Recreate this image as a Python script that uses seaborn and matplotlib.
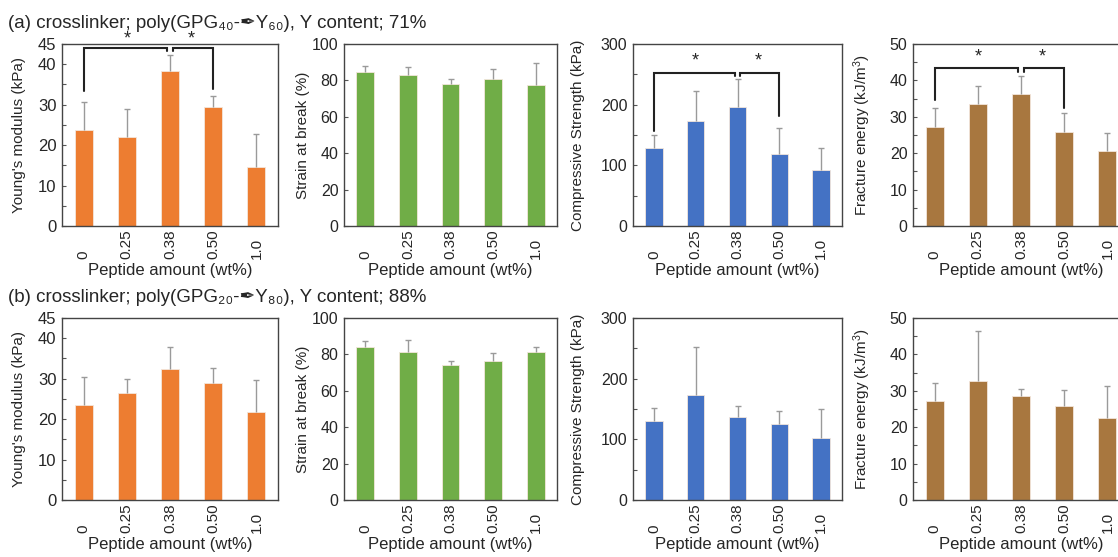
import numpy as np
import pandas as pd
import matplotlib
matplotlib.use("Agg")
import matplotlib.pyplot as plt
import seaborn as sns

# Data
peptide = ["0", "0.25", "0.38", "0.50", "1.0"]

young_a = [23.8, 22.1, 38.3, 29.5, 14.7]
young_a_err = [6.9, 6.8, 4.0, 2.6, 8.1]
strain_a = [84.5, 83.0, 78.0, 80.5, 77.5]
strain_a_err = [3.2, 4.3, 2.8, 6.0, 12.0]
comp_a = [128.5, 173.0, 196.5, 118.0, 92.0]
comp_a_err = [21.5, 49.0, 45.5, 43.0, 37.0]
frac_a = [27.2, 33.4, 36.2, 25.9, 20.6]
frac_a_err = [5.1, 5.1, 5.1, 5.1, 5.0]

young_b = [23.5, 26.5, 32.4, 29.0, 21.8]
young_b_err = [6.9, 3.5, 5.5, 3.7, 7.9]
strain_b = [84.1, 81.4, 74.2, 76.4, 81.2]
strain_b_err = [3.3, 6.4, 2.4, 4.6, 2.9]
comp_b = [129.4, 173.9, 137.2, 125.6, 102.8]
comp_b_err = [22.3, 77.8, 17.8, 21.1, 47.8]
frac_b = [27.2, 32.7, 28.6, 25.8, 22.5]
frac_b_err = [5.0, 13.8, 1.8, 4.3, 8.8]

# significance brackets (row a): left foot, bracket top, dip at 0.38, right foot, star height
young_sig = [33.3, 44.0, 43.2, 33.8, 46.3]
comp_sig = [156, 253, 247, 182, 272]
frac_sig = [34.7, 43.3, 42.4, 32.3, 46.3]

titles = ["(a) crosslinker; poly(GPG\u2084\u2080-\u2712Y\u2086\u2080), Y content; 71%",
          "(b) crosslinker; poly(GPG\u2082\u2080-\u2712Y\u2088\u2080), Y content; 88%"]

ylabels = ["Young's modulus (kPa)", "Strain at break (%)",
           "Compressive Strength (kPa)", "Fracture energy (kJ/m$^3$)"]
colors = ["#ED7D31", "#70AD47", "#4472C4", "#A8773F"]
ylims = [45, 100, 300, 50]
majors = [[0, 10, 20, 30, 40, 45], [0, 20, 40, 60, 80, 100], [0, 100, 200, 300], [0, 10, 20, 30, 40, 50]]
minors = [[5, 15, 25, 35], [], [50, 150, 250], [5, 15, 25, 35, 45]]

rows = [
    [(young_a, young_a_err, young_sig), (strain_a, strain_a_err, None),
     (comp_a, comp_a_err, comp_sig), (frac_a, frac_a_err, frac_sig)],
    [(young_b, young_b_err, None), (strain_b, strain_b_err, None),
     (comp_b, comp_b_err, None), (frac_b, frac_b_err, None)],
]

sns.set_style("white")
plt.rcParams['font.family'] = ['Liberation Sans', 'DejaVu Sans']
plt.rcParams['mathtext.default'] = 'regular'

W, H = 1118, 557
fig = plt.figure(figsize=(W / 100, H / 100), dpi=100)

lefts = [62, 344, 633, 913]
widths = [216, 213, 209, 216]
tops = [44, 318]
ah = 182
ylab_off = [36, 34, 48, 40]

for r in range(2):
    fig.text(8 / W, 1 - (tops[r] - 21) / H, titles[r], fontsize=13.5, va='center', ha='left')
    for c in range(4):
        vals, errs, sig = rows[r][c]
        ax = fig.add_axes([lefts[c] / W, 1 - (tops[r] + ah) / H, widths[c] / W, ah / H])
        df = pd.DataFrame({"peptide": peptide, "value": vals})
        sns.barplot(data=df, x="peptide", y="value", color=colors[c], saturation=1,
                    width=0.42, edgecolor="#f3e6dc", linewidth=0.6, ax=ax, errorbar=None)
        x = np.arange(len(peptide))
        eb = ax.errorbar(x, vals, yerr=[np.zeros(len(vals)), errs], fmt='none',
                         ecolor='#9a9a9a', elinewidth=1, capsize=2.5, capthick=1)
        eb[1][0].set_visible(False)
        ax.set_xlim(-0.5, 4.5)
        ax.set_ylim(0, ylims[c])
        ax.set_yticks(majors[c])
        ax.set_yticks(minors[c], minor=True)
        ax.tick_params(axis='y', which='both', direction='in', length=3, width=0.8,
                       color='#555555', labelsize=12 if c == 0 else 11.5, pad=4, left=True)
        ax.tick_params(axis='x', bottom=False, labelbottom=False)
        for s in ax.spines.values():
            s.set_color('#444444')
            s.set_linewidth(1)
        ax.set_xlabel("")
        ax.set_ylabel(ylabels[c], fontsize=11)
        ax.yaxis.set_label_coords(-ylab_off[c] / widths[c], 0.5)
        # rotated category labels, bottom aligned
        for i, lab in enumerate(peptide):
            ax.text(i, -33 / ah, lab, transform=ax.get_xaxis_transform(), rotation=90,
                    ha='center', va='bottom', fontsize=11)
        ax.text(0.5, -37 / ah, "Peptide amount (wt%)", transform=ax.transAxes,
                ha='center', va='top', fontsize=12)
        if sig is not None:
            lo, top, dip, ro, star = sig
            ax.plot([0, 0, 1.93, 1.93], [lo, top, top, dip], color='#222222', lw=1.5,
                    clip_on=False, solid_joinstyle='miter')
            ax.plot([2.07, 2.07, 3, 3], [dip, top, top, ro], color='#222222', lw=1.5,
                    clip_on=False, solid_joinstyle='miter')
            ax.text(1.0, star, "*", ha='center', va='center', fontsize=13, clip_on=False)
            ax.text(2.5, star, "*", ha='center', va='center', fontsize=13, clip_on=False)

plt.savefig("out.png", dpi=100)
